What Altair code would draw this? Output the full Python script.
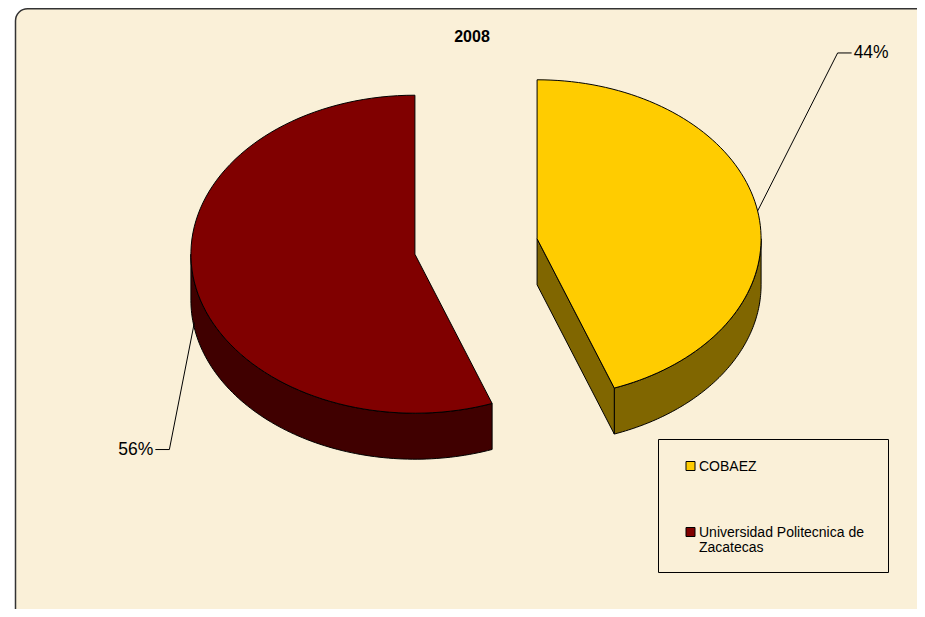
import altair as alt
import pandas as pd

# ---------------- data ----------------
categories = ["COBAEZ", "Universidad Politecnica de Zacatecas"]
values = [44.4, 55.6]
legend_labels = ["COBAEZ", "Universidad Politecnica de\nZacatecas"]
title_text = ["2008"]

# ---------------- style ----------------
top_colors = ["#FFCC00", "#800000"]
side_colors = ["#806600", "#400000"]
BG = "#FAF0D8"
FONT = "Liberation Sans"

W, H = 909, 601          # chart size (page coords = chart coords + 8)
OX, OY = 8, 8
CX, CY = 476, 246.5      # pie centre (page px)
RX, RY = 224, 159        # ellipse radii
DEPTH = 46               # 3-D thickness
EXPLODE = 0.277
N = 90                   # points per rim
TAIL = 14
label_dy = [0, 40.5]
elbow_dx = [80, -25]
elbow_dy = [-158, 127]

df = pd.DataFrame({
    "category": categories,
    "value": values,
    "order": list(range(len(categories))),
    "legend": legend_labels,
    "ldy": label_dy,
    "edx": elbow_dx,
    "edy": elbow_dy,
})
one = pd.DataFrame({"title": title_text})

xs = alt.Scale(domain=[OX, OX + W], nice=False, zero=False)
ys = alt.Scale(domain=[OY, OY + H], nice=False, zero=False, reverse=True)
top_scale = alt.Scale(domain=categories, range=top_colors)
side_scale = alt.Scale(domain=categories, range=side_colors)


def X(f):
    return alt.X(f"{f}:Q", scale=xs, axis=None)


def Y(f):
    return alt.Y(f"{f}:Q", scale=ys, axis=None)


def base():
    return (
        alt.Chart(df)
        .transform_joinaggregate(total="sum(value)")
        .transform_window(cum="sum(value)", sort=[alt.SortField("order")])
        .transform_calculate(a0="2*PI*(datum.cum-datum.value)/datum.total",
                             a1="2*PI*datum.cum/datum.total")
        .transform_calculate(am="(datum.a0+datum.a1)/2")
        .transform_calculate(cx=f"{CX}+{EXPLODE * RX}*sin(datum.am)",
                             cy=f"{CY}-{EXPLODE * RY}*cos(datum.am)")
    )


# top faces
tops = (
    base()
    .transform_calculate(ks=f"sequence(0,{N + 3})")
    .transform_flatten(["ks"], as_=["k"])
    .transform_calculate(rim=f"datum.k>=1 && datum.k<={N + 1}",
                         ang=f"datum.a0+(datum.a1-datum.a0)*clamp((datum.k-1)/{N},0,1)")
    .transform_calculate(px=f"datum.rim ? datum.cx+{RX}*sin(datum.ang) : datum.cx",
                         py=f"datum.rim ? datum.cy-{RY}*cos(datum.ang) : datum.cy")
    .mark_line(stroke="black", strokeWidth=1, strokeJoin="round")
    .encode(x=X("px"), y=Y("py"), order=alt.Order("k:Q"), detail="category:N",
            fill=alt.Fill("category:N", scale=top_scale, legend=None))
)

# outer (front) walls
walls = (
    base()
    .transform_calculate(lo="max(datum.a0, PI/2)", hi="min(datum.a1, 3*PI/2)")
    .transform_filter("datum.lo < datum.hi")
    .transform_calculate(ks=f"sequence(0,{2 * N + 3})")
    .transform_flatten(["ks"], as_=["k"])
    .transform_calculate(
        j=f"datum.k<={N} ? datum.k : (datum.k<={2 * N + 1} ? {2 * N + 1}-datum.k : 0)",
        dd=f"(datum.k>{N} && datum.k<={2 * N + 1}) ? {DEPTH} : 0")
    .transform_calculate(ang=f"datum.lo+(datum.hi-datum.lo)*datum.j/{N}")
    .transform_calculate(px=f"datum.cx+{RX}*sin(datum.ang)",
                         py=f"datum.cy-{RY}*cos(datum.ang)+datum.dd")
    .mark_line(stroke="black", strokeWidth=1, strokeJoin="round")
    .encode(x=X("px"), y=Y("py"), order=alt.Order("k:Q"), detail="category:N",
            fill=alt.Fill("category:N", scale=side_scale, legend=None))
)

# visible cut faces
faces = (
    base()
    .transform_calculate(es="[0,1]")
    .transform_flatten(["es"], as_=["edge"])
    .transform_filter("datum.edge==0 ? sin(datum.a0) < -1e-6 : sin(datum.a1) > 1e-6")
    .transform_calculate(ea="datum.edge==0 ? datum.a0 : datum.a1")
    .transform_calculate(ks="sequence(0,5)")
    .transform_flatten(["ks"], as_=["k"])
    .transform_calculate(r="(datum.k==1||datum.k==2) ? 1 : 0",
                         dd=f"(datum.k==2||datum.k==3) ? {DEPTH} : 0")
    .transform_calculate(px=f"datum.cx+datum.r*{RX}*sin(datum.ea)",
                         py=f"datum.cy-datum.r*{RY}*cos(datum.ea)+datum.dd")
    .mark_line(stroke="black", strokeWidth=1, strokeJoin="round")
    .encode(x=X("px"), y=Y("py"), order=alt.Order("k:Q"),
            detail=["category:N", "edge:N"],
            fill=alt.Fill("category:N", scale=side_scale, legend=None))
)


def anchored():
    return (
        base()
        .transform_calculate(ax=f"datum.cx+{RX}*sin(datum.am)",
                             ay=f"datum.cy-{RY}*cos(datum.am)+datum.ldy")
        .transform_calculate(ex="datum.ax+datum.edx", ey="datum.ay+datum.edy",
                             sg="datum.edx>0 ? 1 : -1")
    )


leaders = (
    anchored()
    .transform_calculate(ks="sequence(0,3)")
    .transform_flatten(["ks"], as_=["k"])
    .transform_calculate(
        px=f"datum.k==0 ? datum.ax : (datum.k==1 ? datum.ex : datum.ex+{TAIL}*datum.sg)",
        py="datum.k==0 ? datum.ay : datum.ey")
    .mark_line(color="black", strokeWidth=1)
    .encode(x=X("px"), y=Y("py"), order=alt.Order("k:Q"), detail="category:N")
)


def pct_labels(side):
    cond = "datum.sg>0" if side == "left" else "datum.sg<0"
    return (
        anchored()
        .transform_filter(cond)
        .transform_calculate(pct="format(datum.value/datum.total, '.0%')",
                             tx=f"datum.ex+{TAIL + 2}*datum.sg")
        .mark_text(align=side, baseline="middle", font=FONT, fontSize=17.5, color="black")
        .encode(x=X("tx"), y=Y("ey"), text="pct:N")
    )


frame = alt.Chart(one).mark_rect(
    cornerRadius=12, fill=BG, stroke="#333333", strokeWidth=1.5
).encode(x=alt.value(7.5), y=alt.value(0.75), x2=alt.value(W + 40), y2=alt.value(H + 40))

title = alt.Chart(one).mark_text(
    font=FONT, fontSize=16, fontWeight="bold", baseline="middle", align="center", color="black"
).encode(x=alt.value(472 - OX), y=alt.value(37 - OY), text="title:N")

legbox = alt.Chart(one).mark_rect(fill=None, stroke="black", strokeWidth=1).encode(
    x=alt.value(658.5 - OX), x2=alt.value(888.5 - OX),
    y=alt.value(439.5 - OY), y2=alt.value(572.5 - OY))

leg_base = alt.Chart(df).transform_calculate(ly="466+66*datum.order")
legsq = (
    leg_base.transform_calculate(sy0="datum.ly-4.5", sy1="datum.ly+4.5",
                                 sx0="686", sx1="695")
    .mark_rect(stroke="black", strokeWidth=1)
    .encode(x=X("sx0"), x2="sx1:Q", y=Y("sy0"), y2="sy1:Q",
            fill=alt.Fill("category:N", scale=top_scale, legend=None))
)
legtxt = (
    leg_base.transform_calculate(ty="datum.ly-6", tx="699")
    .mark_text(align="left", baseline="top", font=FONT, fontSize=14, lineHeight=15,
               lineBreak="\n", color="black")
    .encode(x=X("tx"), y=Y("ty"), text="legend:N")
)

chart = (
    alt.layer(frame, walls, faces, tops, leaders, pct_labels("left"), pct_labels("right"),
              legbox, legsq, legtxt, title)
    .resolve_scale(fill="independent")
    .properties(width=W, height=H, padding=0, background="white",
                autosize=alt.AutoSizeParams(type="none"))
    .configure_view(stroke=None)
)

chart.save("out.html", embed_options={"renderer": "svg", "actions": False})
